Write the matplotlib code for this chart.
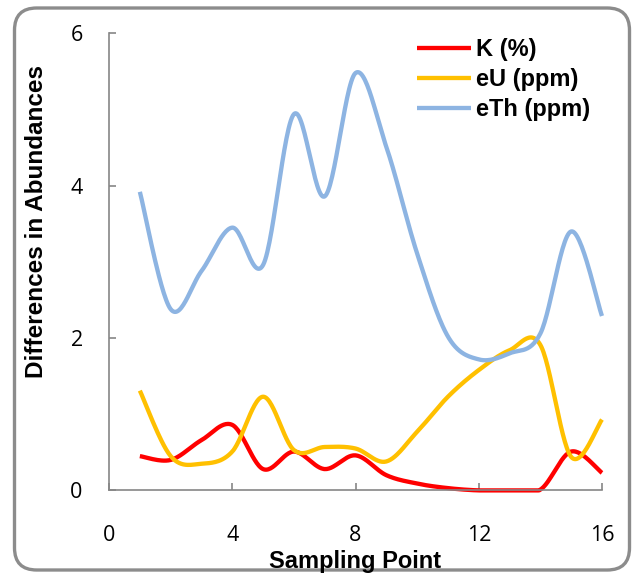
import numpy as np
import matplotlib.pyplot as plt
from matplotlib.patches import FancyBboxPatch

sampling_point = [1, 2, 3, 4, 5, 6, 7, 8, 9, 10, 11, 12, 13, 14, 15, 16]
k_pct = [0.45, 0.40, 0.66, 0.86, 0.28, 0.51, 0.28, 0.46, 0.20, 0.09, 0.03, 0.0, 0.0, 0.01, 0.51, 0.23]
eu_ppm = [1.31, 0.45, 0.35, 0.51, 1.23, 0.53, 0.57, 0.55, 0.38, 0.77, 1.23, 1.58, 1.84, 1.91, 0.44, 0.93]
eth_ppm = [3.92, 2.38, 2.88, 3.45, 2.96, 4.94, 3.86, 5.48, 4.51, 3.11, 2.02, 1.72, 1.80, 2.06, 3.40, 2.29]


def smooth(x, y, n=30):
    # Catmull-Rom style bezier through every point (like spreadsheet "smoothed line")
    p = np.column_stack([x, y]).astype(float)
    p = np.vstack([p[0], p, p[-1]])
    out = []
    t = np.linspace(0, 1, n)[:, None]
    for i in range(1, len(p) - 2):
        p0, p1, p2, p3 = p[i - 1], p[i], p[i + 1], p[i + 2]
        c1 = p1 + (p2 - p0) / 6
        c2 = p2 - (p3 - p1) / 6
        seg = ((1 - t) ** 3) * p1 + 3 * ((1 - t) ** 2) * t * c1 + 3 * (1 - t) * t ** 2 * c2 + t ** 3 * p2
        out.append(seg if i == 1 else seg[1:])
    out = np.vstack(out)
    return out[:, 0], np.maximum(out[:, 1], 0)


fig = plt.figure(figsize=(6.34, 5.76), dpi=100)
ax = fig.add_axes([0.172, 0.1486, 0.7775, 0.7934])

series = [(k_pct, 'K (%)', '#ff0000'),
          (eu_ppm, 'eU (ppm)', '#ffc000'),
          (eth_ppm, 'eTh (ppm)', '#8db4e2')]
for vals, name, col in series:
    sx, sy = smooth(sampling_point, vals)
    ax.plot(sx, sy, color=col, lw=3.1, label=name, solid_capstyle='butt', clip_on=False)

ax.set_xlim(0, 16)
ax.set_ylim(0, 6)
ax.set_xticks([0, 4, 8, 12, 16])
ax.set_yticks([0, 2, 4, 6])
for s in ['top', 'right']:
    ax.spines[s].set_visible(False)
for s in ['left', 'bottom']:
    ax.spines[s].set_color('#868686')
    ax.spines[s].set_linewidth(1.2)
ax.tick_params(direction='in', length=5, width=1.2, color='#868686',
               labelsize=15.5)
ax.tick_params(axis='y', pad=19)
ax.tick_params(axis='x', pad=25)
for lab in ax.get_xticklabels() + ax.get_yticklabels():
    lab.set_fontfamily('Open Sans')

fig.text(0.5607, 0.026, 'Sampling Point', ha='center', va='center',
         fontsize=17, fontweight='bold', family='Liberation Sans')
fig.text(0.057, 1 - 221 / 576, 'Differences in Abundances', ha='center', va='center',
         rotation=90, fontsize=17.5, fontweight='bold', family='Liberation Sans')

ax.legend(loc='upper left', bbox_to_anchor=(0.625, 0.99), frameon=False,
          prop={'family': 'Liberation Sans', 'weight': 'bold', 'size': 17},
          handlelength=2.3, handletextpad=0.2, labelspacing=0.3,
          borderpad=0, borderaxespad=0)

# rounded chart border
w, h = 634, 576
border = FancyBboxPatch((14.5 / w, 6 / h), 615 / w, 562 / h,
                        boxstyle='round,pad=0,rounding_size=0.035',
                        transform=fig.transFigure, fill=False,
                        edgecolor='#8c8c8c', lw=2.4, mutation_aspect=w / h)
fig.patches.append(border)

fig.savefig('out.png', dpi=100)
